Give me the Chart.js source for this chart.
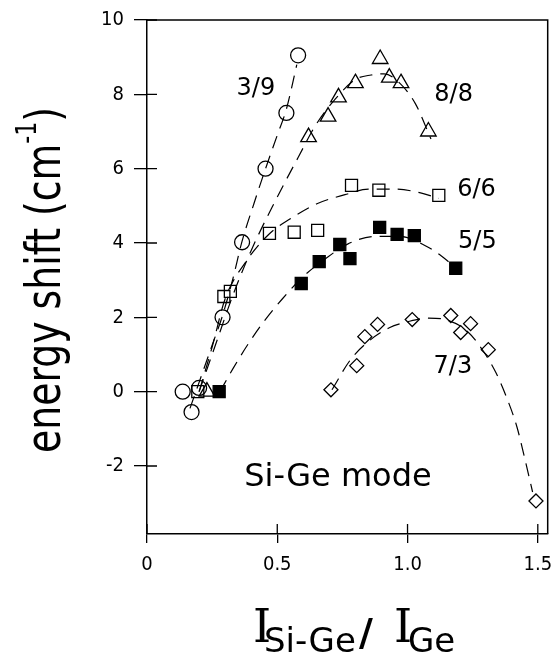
<!DOCTYPE html>
<html>
<head>
<meta charset="utf-8">
<script src="https://cdn.jsdelivr.net/npm/chart.js@4.4.1/dist/chart.umd.min.js"></script>
<style>
  html, body { margin: 0; padding: 0; background: #fff; }
</style>
</head>
<body>
<canvas id="chart" width="558" height="664"></canvas>
<script>
// measured points: x = I(Si-Ge)/I(Ge), y = energy shift (cm-1)
const x39 = [0.137, 0.171, 0.20, 0.29, 0.365, 0.455, 0.535, 0.58];
const y39 = [0.0, -0.55, 0.1, 2.0, 4.02, 6.0, 7.5, 9.05];

const x88 = [0.23, 0.62, 0.695, 0.735, 0.80, 0.895, 0.93, 0.975, 1.08];
const y88 = [0.0, 6.85, 7.4, 7.92, 8.3, 8.95, 8.45, 8.3, 7.0];

const x66 = [0.195, 0.295, 0.32, 0.47, 0.565, 0.655, 0.785, 0.89, 1.12];
const y66 = [0.0, 2.56, 2.7, 4.26, 4.29, 4.34, 5.55, 5.42, 5.28];

const x55 = [0.277, 0.592, 0.661, 0.74, 0.779, 0.893, 0.96, 1.026, 1.185];
const y55 = [0.0, 2.91, 3.5, 3.96, 3.58, 4.42, 4.23, 4.2, 3.32];

const x73 = [0.706, 0.805, 0.836, 0.885, 1.018, 1.166, 1.204, 1.242, 1.31, 1.493];
const y73 = [0.05, 0.7, 1.48, 1.81, 1.94, 2.05, 1.59, 1.83, 1.13, -2.94];

// dashed guide curves
const cx39 = [0.165, 0.2, 0.25, 0.29, 0.33, 0.365, 0.41, 0.455, 0.5, 0.535, 0.575];
const cy39 = [-0.45, 0.25, 1.25, 2.05, 3.05, 4.05, 5.05, 6.0, 6.9, 7.6, 8.8];

const cx88 = [0.2, 0.26, 0.33, 0.4, 0.49, 0.58, 0.65, 0.72, 0.8, 0.86, 0.91, 0.97, 1.03, 1.09];
const cy88 = [0.0, 1.2, 2.6, 3.8, 5.1, 6.3, 7.2, 7.85, 8.4, 8.52, 8.55, 8.3, 7.75, 6.8];

const cx66 = [0.2, 0.25, 0.3, 0.38, 0.47, 0.55, 0.65, 0.76, 0.85, 0.95, 1.05, 1.12];
const cy66 = [0.0, 1.2, 2.5, 3.5, 4.25, 4.65, 5.05, 5.3, 5.45, 5.45, 5.35, 5.2];

const cx55 = [0.28, 0.33, 0.39, 0.45, 0.52, 0.6, 0.68, 0.77, 0.88, 0.97, 1.07, 1.13, 1.19];
const cy55 = [0.0, 0.62, 1.3, 1.9, 2.5, 3.1, 3.55, 3.97, 4.18, 4.18, 3.92, 3.65, 3.3];

const cx73 = [0.71, 0.78, 0.85, 0.93, 1.0, 1.08, 1.15, 1.23, 1.29, 1.34, 1.38, 1.42, 1.45, 1.48];
const cy73 = [0.05, 0.85, 1.35, 1.72, 1.88, 1.98, 1.93, 1.62, 1.1, 0.5, -0.15, -0.95, -1.8, -2.7];

const xTicks = [0, 0.5, 1.0, 1.5];
const yTicks = [-2, 0, 2, 4, 6, 8, 10];

// sample labels (text, x, y in data units)
const notes = [
  ['3/9', 0.418, 8.14],
  ['8/8', 1.177, 8.0],
  ['6/6', 1.265, 5.44],
  ['5/5', 1.268, 4.02],
  ['7/3', 1.174, 0.67]
];

const pts = (xs, ys) => xs.map((v, i) => ({ x: v, y: ys[i] }));

function marks(xs, ys, style, r, fill) {
  return {
    data: pts(xs, ys),
    pointStyle: style,
    pointRadius: r,
    pointBorderColor: '#000',
    pointBackgroundColor: fill ? '#000' : 'rgba(0,0,0,0)',
    pointBorderWidth: 1.3,
    showLine: false,
    order: 1
  };
}

function curve(xs, ys) {
  return {
    data: pts(xs, ys),
    showLine: true,
    pointRadius: 0,
    borderColor: '#000',
    borderWidth: 1.2,
    borderDash: [13, 8],
    cubicInterpolationMode: 'monotone',
    order: 2
  };
}

const tickFont = { family: 'DejaVu Sans Condensed, DejaVu Sans, sans-serif', size: 20 };

const decor = {
  id: 'decor',
  afterDraw(chart) {
    const ctx = chart.ctx;
    const a = chart.chartArea;
    const xs = chart.scales.x, ys = chart.scales.y;
    ctx.save();
    ctx.strokeStyle = '#000';
    ctx.lineWidth = 1.5;
    ctx.beginPath();
    ctx.moveTo(a.left, a.top);
    ctx.lineTo(a.right, a.top);
    ctx.lineTo(a.right, a.bottom);
    ctx.stroke();

    // inner tick marks
    ctx.lineWidth = 1.3;
    ctx.beginPath();
    xTicks.forEach(v => {
      const p = xs.getPixelForValue(v);
      ctx.moveTo(p, a.bottom);
      ctx.lineTo(p, a.bottom - 10);
    });
    yTicks.forEach(v => {
      const p = ys.getPixelForValue(v);
      ctx.moveTo(a.left, p);
      ctx.lineTo(a.left + 10, p);
    });
    ctx.stroke();

    ctx.fillStyle = '#000';
    ctx.textAlign = 'center';
    ctx.textBaseline = 'middle';
    ctx.font = '24px "DejaVu Sans", sans-serif';
    notes.forEach(n => {
      ctx.fillText(n[0], xs.getPixelForValue(n[1]), ys.getPixelForValue(n[2]));
    });
    ctx.font = '32px "DejaVu Sans", sans-serif';
    ctx.fillText('Si-Ge mode', xs.getPixelForValue(0.733), ys.getPixelForValue(-2.32));

    // y title
    ctx.save();
    ctx.translate(60, 280);
    ctx.rotate(-Math.PI / 2);
    ctx.textAlign = 'left';
    ctx.textBaseline = 'alphabetic';
    const big = '48px "DejaVu Sans", sans-serif';
    const sup = '28px "DejaVu Sans", sans-serif';
    ctx.font = big;
    const w1 = ctx.measureText('energy shift (cm').width;
    const w3 = ctx.measureText(')').width;
    ctx.font = sup;
    const w2 = ctx.measureText('-1').width;
    const total = w1 + w2 + w3;
    const sx = 346 / total;
    ctx.scale(sx, 1);
    let px = -total / 2;
    ctx.font = big;
    ctx.fillText('energy shift (cm', px, 0);
    px += w1;
    ctx.font = sup;
    ctx.fillText('-1', px, -24);
    px += w2;
    ctx.font = big;
    ctx.fillText(')', px, 0);
    ctx.restore();

    // x title, pieces placed left to right
    ctx.textAlign = 'left';
    ctx.textBaseline = 'alphabetic';
    const serif = '46px "DejaVu Serif", serif';
    const sub = '34px "DejaVu Sans", sans-serif';
    ctx.font = serif;
    ctx.fillText('I', 253, 642);
    ctx.font = sub;
    ctx.fillText('Si-Ge', 264, 652);
    ctx.font = 'bold 38px "DejaVu Sans", sans-serif';
    ctx.fillText('/', 359, 645);
    ctx.font = serif;
    ctx.fillText('I', 394, 642);
    ctx.font = sub;
    ctx.fillText('Ge', 408, 652);
    ctx.restore();
  }
};

const onlyListed = list => scale => {
  scale.ticks = list.map(v => ({ value: v }));
};

new Chart(document.getElementById('chart'), {
  type: 'scatter',
  data: {
    datasets: [
      curve(cx39, cy39),
      curve(cx88, cy88),
      curve(cx66, cy66),
      curve(cx55, cy55),
      curve(cx73, cy73),
      marks(x39, y39, 'circle', 7.5, false),
      marks(x88, y88, 'triangle', 9, false),
      marks(x66, y66, 'rect', 8.5, false),
      marks(x55, y55, 'rect', 8.5, true),
      marks(x73, y73, 'rectRot', 7, false)
    ]
  },
  options: {
    responsive: false,
    animation: false,
    devicePixelRatio: 1,
    layout: { padding: { top: 20, right: 6, left: 0, bottom: 0 } },
    plugins: { legend: { display: false }, tooltip: { enabled: false } },
    scales: {
      x: {
        type: 'linear',
        min: 0,
        max: 1.538,
        afterBuildTicks: onlyListed(xTicks),
        afterFit(s) { s.height = 130; s.paddingLeft = 0; s.paddingRight = 0; },
        ticks: {
          font: tickFont,
          color: '#000',
          padding: 10,
          maxRotation: 0,
          callback: v => (v === 0 ? '0' : v.toFixed(1))
        },
        grid: { drawOnChartArea: false, drawTicks: true, tickLength: 9, color: '#000', lineWidth: 1.3 },
        border: { color: '#000', width: 1.5 }
      },
      y: {
        min: -3.83,
        max: 10,
        afterBuildTicks: onlyListed(yTicks),
        afterFit(s) { s.width = 147; s.paddingTop = 0; s.paddingBottom = 0; },
        ticks: { font: tickFont, color: '#000', padding: 10 },
        grid: { drawOnChartArea: false, drawTicks: true, tickLength: 13, color: '#000', lineWidth: 1.3 },
        border: { color: '#000', width: 1.5 }
      }
    }
  },
  plugins: [decor]
});
</script>
</body>
</html>
